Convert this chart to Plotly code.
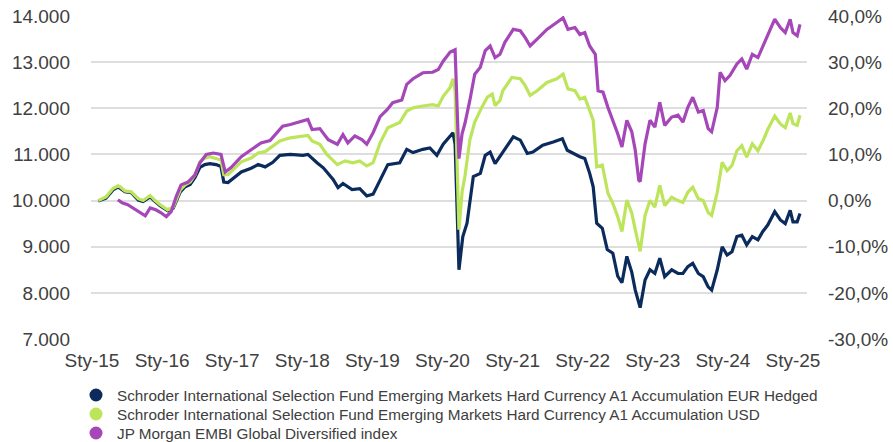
import plotly.graph_objects as go

# ---------------- data (decimal years, index value of 10 000 invested) ----------------
navy_x = [2015.09, 2015.20, 2015.30, 2015.37, 2015.40, 2015.47, 2015.56, 2015.66, 2015.73, 2015.83,
          2015.90, 2015.98, 2016.08, 2016.16, 2016.26, 2016.33, 2016.40, 2016.47, 2016.54, 2016.61,
          2016.68, 2016.77, 2016.84, 2016.88, 2016.94, 2017.04, 2017.13, 2017.27, 2017.37, 2017.47,
          2017.58, 2017.68, 2017.83, 2018.01, 2018.08, 2018.21, 2018.30, 2018.44, 2018.51, 2018.58,
          2018.71, 2018.82, 2018.92, 2019.01, 2019.14, 2019.22, 2019.39, 2019.49, 2019.58, 2019.72,
          2019.82, 2019.92, 2020.01, 2020.11, 2020.15, 2020.18, 2020.21, 2020.235, 2020.29, 2020.35,
          2020.44, 2020.54, 2020.61, 2020.68, 2020.75, 2020.82, 2020.92, 2021.01, 2021.11, 2021.21,
          2021.29, 2021.43, 2021.58, 2021.71, 2021.78, 2021.86, 2021.96, 2022.03, 2022.10, 2022.15,
          2022.20, 2022.28, 2022.35, 2022.43, 2022.50, 2022.56, 2022.63, 2022.70, 2022.75, 2022.80,
          2022.82, 2022.89, 2022.96, 2023.03, 2023.10, 2023.17, 2023.27, 2023.36, 2023.43, 2023.50,
          2023.57, 2023.65, 2023.72, 2023.79, 2023.84, 2023.92, 2023.99, 2024.06, 2024.13, 2024.20,
          2024.27, 2024.34, 2024.42, 2024.50, 2024.57, 2024.64, 2024.74, 2024.82, 2024.89, 2024.96,
          2025.00, 2025.06, 2025.10]
navy_y = [9990, 10050, 10230, 10290, 10270, 10190, 10170, 10010, 9980, 10080,
          9980, 9880, 9780, 9840, 10190, 10300, 10350, 10500, 10720, 10780,
          10800, 10780, 10740, 10400, 10390, 10520, 10620, 10700, 10780, 10730,
          10830, 10980, 11000, 10980, 11000, 10820, 10710, 10460, 10280, 10370,
          10240, 10260, 10100, 10140, 10530, 10780, 10820, 11110, 11040, 11110,
          11140, 10980, 11220, 11400, 11470, 11220, 9440, 8500, 9220, 9510,
          10520, 10590, 10980, 11050, 10800, 10950, 11160, 11380, 11310, 11020,
          11050, 11200, 11270, 11340, 11090, 11020, 10950, 10910, 10590, 10300,
          9510, 9400, 8940, 8860, 8360, 8220, 8790, 8450, 8060, 7790,
          7680, 8280, 8500, 8420, 8750, 8350, 8500, 8420, 8420, 8570,
          8640, 8420, 8350, 8130, 8060, 8500, 9000, 8820, 8890, 9220,
          9250, 9040, 9220, 9150, 9330, 9470, 9760, 9580, 9500, 9790,
          9540, 9540, 9720]

green_x = [2015.09, 2015.20, 2015.30, 2015.37, 2015.40, 2015.47, 2015.56, 2015.66, 2015.73, 2015.83,
           2015.90, 2015.98, 2016.08, 2016.16, 2016.26, 2016.33, 2016.40, 2016.47, 2016.54, 2016.61,
           2016.68, 2016.77, 2016.84, 2016.88, 2016.94, 2017.04, 2017.13, 2017.27, 2017.37, 2017.47,
           2017.58, 2017.68, 2017.83, 2018.08, 2018.14, 2018.25, 2018.35, 2018.50, 2018.61, 2018.72,
           2018.82, 2018.92, 2019.01, 2019.11, 2019.22, 2019.39, 2019.49, 2019.58, 2019.72, 2019.86,
           2019.94, 2020.01, 2020.11, 2020.15, 2020.18, 2020.21, 2020.235, 2020.28, 2020.32, 2020.39,
           2020.46, 2020.56, 2020.64, 2020.71, 2020.75, 2020.82, 2020.86, 2020.99, 2021.11, 2021.18,
           2021.25, 2021.35, 2021.49, 2021.63, 2021.72, 2021.79, 2021.89, 2021.96, 2022.03, 2022.10,
           2022.15, 2022.20, 2022.28, 2022.36, 2022.43, 2022.50, 2022.56, 2022.63, 2022.70, 2022.75,
           2022.80, 2022.82, 2022.89, 2022.96, 2023.03, 2023.10, 2023.17, 2023.27, 2023.36, 2023.43,
           2023.50, 2023.57, 2023.65, 2023.72, 2023.79, 2023.84, 2023.92, 2023.99, 2024.06, 2024.13,
           2024.20, 2024.27, 2024.34, 2024.42, 2024.50, 2024.57, 2024.64, 2024.74, 2024.82, 2024.89,
           2024.96, 2025.00, 2025.06, 2025.10]
green_y = [10000, 10080, 10260, 10320, 10300, 10210, 10190, 10040, 10000, 10110,
           10000, 9900, 9800, 9860, 10230, 10340, 10400, 10560, 10840, 10920,
           10950, 10920, 10880, 10560, 10560, 10710, 10840, 10920, 11030, 11060,
           11170, 11290, 11360, 11410, 11290, 11220, 11000, 10780, 10860, 10820,
           10860, 10750, 10820, 11250, 11580, 11690, 11940, 12010, 12050, 12080,
           12050, 12260, 12450, 12640, 12370, 10370, 9370, 10190, 10520, 11310,
           11700, 12020, 12240, 12310, 12060, 12170, 12380, 12670, 12640, 12490,
           12280, 12380, 12560, 12640, 12740, 12420, 12380, 12200, 12240, 11950,
           11740, 10730, 10770, 10160, 9940, 9650, 9330, 10010, 9730, 9370,
           9080, 8900, 9680, 10000, 9860, 10330, 9890, 10070, 10000, 9960,
           10180, 10290, 10040, 10000, 9740, 9680, 10180, 10830, 10650, 10760,
           11080, 11190, 10940, 11230, 11080, 11290, 11540, 11830, 11660, 11580,
           11900, 11670, 11630, 11850]

purple_x = [2015.37, 2015.43, 2015.51, 2015.63, 2015.76, 2015.83, 2015.91, 2015.98, 2016.06, 2016.13,
            2016.20, 2016.27, 2016.37, 2016.47, 2016.54, 2016.63, 2016.73, 2016.84, 2016.90, 2016.98,
            2017.13, 2017.27, 2017.41, 2017.54, 2017.65, 2017.72, 2017.83, 2018.01, 2018.08, 2018.14,
            2018.25, 2018.37, 2018.50, 2018.58, 2018.65, 2018.75, 2018.85, 2018.92, 2019.01, 2019.11,
            2019.21, 2019.29, 2019.42, 2019.49, 2019.58, 2019.72, 2019.86, 2019.94, 2020.01, 2020.11,
            2020.18, 2020.21, 2020.235, 2020.28, 2020.32, 2020.39, 2020.46, 2020.54, 2020.61, 2020.68,
            2020.75, 2020.82, 2020.89, 2021.01, 2021.11, 2021.18, 2021.25, 2021.35, 2021.49, 2021.63,
            2021.72, 2021.79, 2021.89, 2021.96, 2022.03, 2022.10, 2022.18, 2022.22, 2022.29, 2022.36,
            2022.43, 2022.50, 2022.56, 2022.63, 2022.70, 2022.75, 2022.80, 2022.82, 2022.89, 2022.96,
            2023.03, 2023.10, 2023.17, 2023.27, 2023.36, 2023.43, 2023.50, 2023.57, 2023.65, 2023.72,
            2023.79, 2023.84, 2023.92, 2023.96, 2024.03, 2024.10, 2024.20, 2024.27, 2024.34, 2024.42,
            2024.50, 2024.57, 2024.64, 2024.74, 2024.82, 2024.89, 2024.96, 2025.00, 2025.06, 2025.10]
purple_y = [10020, 9950, 9910, 9800, 9670, 9840, 9800, 9740, 9650, 9760,
            10080, 10340, 10400, 10560, 10820, 11000, 11030, 11000, 10620, 10710,
            10950, 11100, 11250, 11300, 11490, 11610, 11650, 11740, 11760, 11540,
            11560, 11320, 11220, 11430, 11250, 11400, 11320, 11220, 11470, 11820,
            11970, 12120, 12180, 12520, 12640, 12770, 12780, 12840, 13020, 13220,
            13270, 11950, 10910, 11450, 11670, 12170, 12740, 12890, 13250, 13350,
            13100, 13170, 13430, 13710, 13680, 13530, 13350, 13500, 13710, 13860,
            13960, 13710, 13750, 13600, 13640, 13350, 13170, 12380, 12350, 12020,
            11740, 11450, 11160, 11740, 11490, 11090, 10440, 10410, 11230, 11740,
            11590, 12130, 11630, 11810, 11850, 11700, 12020, 12240, 11920, 11950,
            11560, 11490, 12020, 12780, 12600, 12710, 12960, 13070, 12850, 13170,
            13100, 13350, 13600, 13930, 13750, 13640, 13930, 13640, 13570, 13820]

series_names = [
    "Schroder International Selection Fund Emerging Markets Hard Currency A1 Accumulation EUR Hedged",
    "Schroder International Selection Fund Emerging Markets Hard Currency A1 Accumulation USD",
    "JP Morgan EMBI Global Diversified index",
]
series_colors = ["#0b2b5c", "#bde55c", "#a547b9"]

x_tick_vals = [2015, 2016, 2017, 2018, 2019, 2020, 2021, 2022, 2023, 2024, 2025]
x_tick_text = ["Sty-15", "Sty-16", "Sty-17", "Sty-18", "Sty-19", "Sty-20",
               "Sty-21", "Sty-22", "Sty-23", "Sty-24", "Sty-25"]
y_tick_vals = [7000, 8000, 9000, 10000, 11000, 12000, 13000, 14000]
y_tick_text = ["7.000", "8.000", "9.000", "10.000", "11.000", "12.000", "13.000", "14.000"]
y2_tick_vals = [-0.3, -0.2, -0.1, 0.0, 0.1, 0.2, 0.3, 0.4]
y2_tick_text = ["-30,0%", "-20,0%", "-10,0%", "0,0%", "10,0%", "20,0%", "30,0%", "40,0%"]

FONT = "Liberation Sans, Arial, sans-serif"
TXT = "#404040"

W, H = 893, 442
ML, MR, MT, MB = 91, 86, 16, 103
PW, PH = W - ML - MR, H - MT - MB

fig = go.Figure()
for xs, ys, name, col in zip([navy_x, green_x, purple_x], [navy_y, green_y, purple_y],
                             series_names, series_colors):
    fig.add_trace(go.Scatter(x=xs, y=ys, mode="lines", name=name, showlegend=False,
                             line=dict(color=col, width=3.2), hoverinfo="skip"))

# invisible trace that carries the right-hand percentage axis
fig.add_trace(go.Scatter(x=[x_tick_vals[0]], y=[y2_tick_vals[3]], yaxis="y2", mode="markers",
                         marker=dict(opacity=0), showlegend=False, hoverinfo="skip"))

# hand-built legend (circle + text) below the plot
legend_row_px = [395, 414, 433]
shapes, annotations = [], []
for name, col, ry in zip(series_names, series_colors, legend_row_px):
    yp = (H - MB - ry) / PH
    shapes.append(dict(type="circle", xref="paper", yref="paper",
                       xsizemode="pixel", ysizemode="pixel",
                       xanchor=(96 - ML) / PW, yanchor=yp,
                       x0=-6.5, x1=6.5, y0=-6.5, y1=6.5,
                       fillcolor=col, line=dict(width=0)))
    annotations.append(dict(text=name, xref="paper", yref="paper",
                            x=(115 - ML) / PW, y=yp, xanchor="left", yanchor="middle",
                            showarrow=False, font=dict(size=15.3, color=TXT, family=FONT)))

fig.update_layout(
    width=W, height=H,
    margin=dict(l=ML, r=MR, t=MT, b=MB, autoexpand=False),
    paper_bgcolor="white", plot_bgcolor="white",
    font=dict(family=FONT, color=TXT),
    showlegend=False,
    shapes=shapes, annotations=annotations,
    xaxis=dict(range=[2014.986, 2025.2], tickvals=x_tick_vals, ticktext=x_tick_text,
               showgrid=False, zeroline=False, showline=False, ticks="",
               tickfont=dict(size=19, color=TXT), ticklabelstandoff=8,
               ticklabeloverflow="allow"),
    yaxis=dict(range=[7000, 14000], tickvals=y_tick_vals, ticktext=y_tick_text,
               showgrid=True, gridcolor="#dedede", gridwidth=1.5, zeroline=False,
               ticks="", tickfont=dict(size=19, color=TXT), ticklabelstandoff=20,
               ticklabeloverflow="allow"),
    yaxis2=dict(range=[-0.3, 0.4], overlaying="y", side="right", anchor="x",
                tickvals=y2_tick_vals, ticktext=y2_tick_text, showgrid=False,
                zeroline=False, ticks="", tickfont=dict(size=19, color=TXT),
                ticklabelstandoff=20, ticklabeloverflow="allow"),
)

# remove the browser's default 8px body margin so the figure sits at the page origin
fig.write_html("out.html", config={"displayModeBar": False},
               post_script="document.body.style.margin='0';")
